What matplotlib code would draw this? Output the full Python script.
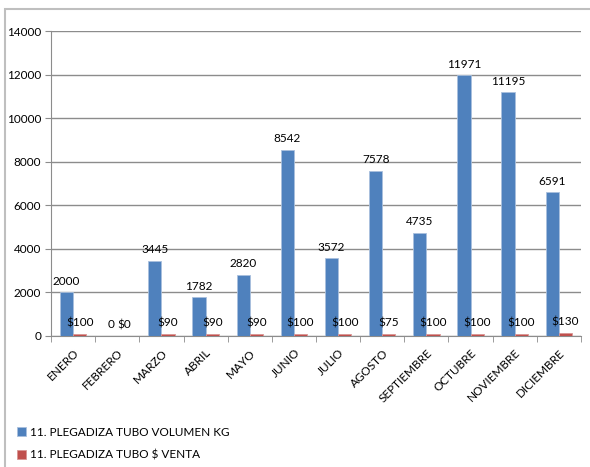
import matplotlib
matplotlib.use("Agg")
import matplotlib.pyplot as plt
from matplotlib.patches import Rectangle
import numpy as np

MONTHS = ["ENERO", "FEBRERO", "MARZO", "ABRIL", "MAYO", "JUNIO", "JULIO",
          "AGOSTO", "SEPTIEMBRE", "OCTUBRE", "NOVIEMBRE", "DICIEMBRE"]
VOLUMEN_KG = [2000, 0, 3445, 1782, 2820, 8542, 3572, 7578, 4735, 11971, 11195, 6591]
VENTA = [100, 0, 90, 90, 90, 100, 100, 75, 100, 100, 100, 130]
SERIES = ["11. PLEGADIZA TUBO VOLUMEN KG", "11. PLEGADIZA TUBO $ VENTA"]

BLUE = "#4F81BD"
RED = "#C0504D"

plt.rcParams["font.family"] = ["Lato", "DejaVu Sans"]
plt.rcParams["font.size"] = 8.5

fig = plt.figure(figsize=(5.9, 4.67), dpi=100)
ax = fig.add_axes([51 / 590, 1 - 336 / 467, 530 / 590, 305 / 467])

# chart border
fig.patches.append(Rectangle((5 / 590, -0.1), 1.2, 1 - 9 / 467 + 0.1,
                             transform=fig.transFigure, fill=False,
                             edgecolor="#BFBFBF", linewidth=1.5))

x = np.arange(len(MONTHS))
w = 0.3
b1 = ax.bar(x - w / 2, VOLUMEN_KG, width=w, color=BLUE, edgecolor="#A9C0DD",
            linewidth=0.6, zorder=3, label=SERIES[0])
b2 = ax.bar(x + w / 2, VENTA, width=w, color=RED, edgecolor="#D99694",
            linewidth=0.6, zorder=3, label=SERIES[1])

for xi, v in zip(x, VOLUMEN_KG):
    ax.annotate(f"{v}", (xi - w / 2, v), xytext=(0, 4), textcoords="offset points",
                ha="center", va="bottom", fontsize=8.5, color="#000000")
for xi, v in zip(x, VENTA):
    ax.annotate(f"${v}", (xi + w / 2, v), xytext=(0, 4), textcoords="offset points",
                ha="center", va="bottom", fontsize=8.5, color="#000000")

ax.set_xlim(-0.5, len(MONTHS) - 0.5)
ax.set_ylim(0, 14000)
ax.set_yticks(np.arange(0, 14001, 2000))
ax.yaxis.grid(True, color="#8C8C8C", linewidth=1.0, zorder=0)
ax.set_axisbelow(True)

ax.set_xticks(x)
ax.set_xticklabels(MONTHS, rotation=45, ha="right", rotation_mode="anchor")
ax.set_xticks(np.arange(-0.5, len(MONTHS)), minor=True)
ax.tick_params(axis="x", which="major", length=0, pad=8)
ax.tick_params(axis="x", which="minor", length=4, color="#8C8C8C", direction="out")
ax.tick_params(axis="y", length=4, color="#8C8C8C", pad=3)

for s in ["top", "right"]:
    ax.spines[s].set_visible(False)
ax.spines["left"].set_color("#8C8C8C")
ax.spines["bottom"].set_color("#8C8C8C")

fig.legend(handles=[b1, b2], loc="upper left", bbox_to_anchor=(12 / 590, 1 - 422 / 467),
           frameon=False, handlelength=0.8, handleheight=0.8, handletextpad=0.3,
           labelspacing=1.0, fontsize=8.5, borderaxespad=0)

fig.savefig("out.png", dpi=100)
